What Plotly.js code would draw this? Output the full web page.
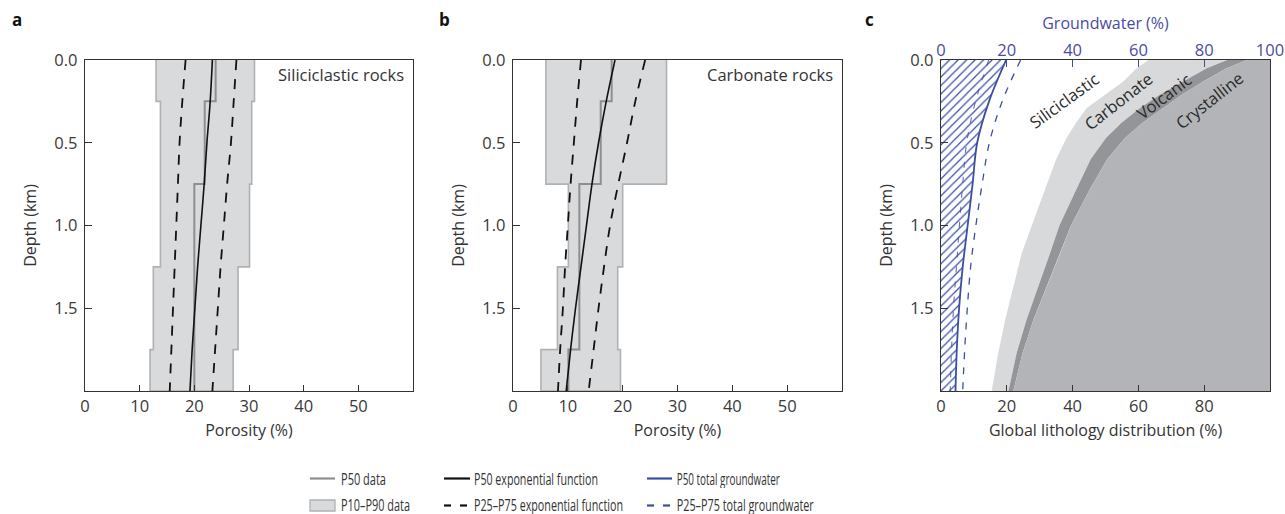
<!DOCTYPE html>
<html><head><meta charset="utf-8">
<script src="https://cdn.plot.ly/plotly-3.0.1.min.js"></script>
<style>html,body{margin:0;padding:0;background:#fff}#chart{width:1285px;height:514px}</style>
</head><body><div id="chart"></div>
<script>
// ---- data: step (binned) porosity data, depth intervals in km ----
const stepDepths = [0, 0.25, 0.75, 1.25, 1.75, 2.0];
const silP10 = [13.0, 13.8, 13.8, 12.5, 11.9];
const silP50 = [23.9, 21.9, 20.0, 20.0, 20.0];
const silP90 = [31.0, 30.5, 30.1, 28.0, 27.1];
const carP10 = [6.0, 6.0, 10.1, 8.1, 5.1];
const carP50 = [18.0, 16.0, 12.1, 12.1, 10.1];
const carP90 = [28.0, 28.0, 20.0, 19.1, 19.6];

// ---- exponential-function fits ----
const fitDepths = [0, 0.25, 0.5, 0.75, 1.0, 1.25, 1.5, 1.75, 2.0];
const silFitP25 = [18.4, 17.8, 17.3, 17.0, 16.7, 16.4, 16.1, 15.8, 15.5];
const silFitP50 = [23.3, 22.9, 22.3, 21.8, 21.2, 20.6, 20.1, 19.6, 19.2];
const silFitP75 = [27.7, 27.2, 26.7, 26.0, 25.4, 24.8, 24.3, 23.8, 23.3];
const carFitP25 = [12.4, 11.7, 11.1, 10.5, 10.0, 9.5, 9.1, 8.6, 8.2];
const carFitP50 = [18.6, 17.0, 15.6, 14.4, 13.4, 12.4, 11.4, 10.5, 9.7];
const carFitP75 = [24.1, 22.3, 20.8, 19.2, 17.7, 16.6, 15.6, 14.7, 13.8];

// ---- total groundwater (%) ----
const gwDepths = [0, 0.25, 0.5, 0.75, 1.0, 1.25, 1.5, 1.75, 2.0];
const gwP25 = [14.5, 10.5, 7.8, 6.6, 5.6, 4.7, 3.8, 3.2, 2.8];
const gwP50 = [19.8, 14.6, 11.0, 9.6, 8.1, 6.6, 5.5, 4.8, 4.4];
const gwP75 = [24.2, 18.6, 14.7, 12.5, 10.6, 9.0, 8.0, 7.2, 6.6];

// ---- global lithology distribution, cumulative boundaries (%) ----
const lithDepths       = [0,    0.05, 0.13, 0.21, 0.29, 0.38, 0.47, 0.6,  0.78, 1.0,  1.17, 1.37, 1.57, 1.77, 2.0];
const siliciclasticTop = [63.0, 59.5, 55.4, 50.0, 44.3, 41.0, 38.2, 35.0, 31.6, 27.6, 24.5, 22.0, 19.5, 17.4, 15.4];
const carbonateTop     = [87.0, 80.8, 73.6, 66.5, 60.5, 54.8, 50.2, 45.5, 41.2, 36.0, 33.1, 29.6, 26.0, 23.0, 20.5];
const volcanicTop      = [93.0, 86.8, 79.7, 73.2, 67.6, 61.2, 56.0, 50.5, 45.3, 39.5, 36.2, 32.1, 28.1, 24.8, 22.0];

const depthTicks = [0, 0.5, 1.0, 1.5];
const depthTickText = ['0.0', '0.5', '1.0', '1.5'];
const porosityTicks = [0, 10, 20, 30, 40, 50];
const lithTicks = [0, 20, 40, 60, 80];
const gwTicks = [0, 20, 40, 60, 80, 100];
const legendLabels = ['P50 data', 'P10–P90 data', 'P50 exponential function',
  'P25–P75 exponential function', 'P50 total groundwater', 'P25–P75 total groundwater'];

// ---- styles ----
const W = 1285, H = 514;
const FONT = '"Open Sans", "Noto Sans", sans-serif';
const TXT = '#333333';
const BAND_FILL = '#d9dadc', BAND_LINE = '#b0b1b3', P50_GRAY = '#8e8f91';
const BLUE = '#3b4ea6', BLUE_TXT = '#4b4ba3';
const CARB = '#d8d9db', VOLC = '#939598', CRYST = '#b3b4b7';
const DASH = '10px,9px';

function stepPath(vals) {
  const xs = [], ys = [];
  for (let i = 0; i < vals.length; i++) {
    xs.push(vals[i], vals[i]);
    ys.push(stepDepths[i], stepDepths[i + 1]);
  }
  return {xs, ys};
}
function band(lo, hi, xa, ya) {
  const L = stepPath(lo), R = stepPath(hi);
  return {
    x: L.xs.concat(R.xs.slice().reverse()),
    y: L.ys.concat(R.ys.slice().reverse()),
    xaxis: xa, yaxis: ya, type: 'scatter', mode: 'lines',
    fill: 'toself', fillcolor: BAND_FILL,
    line: {color: BAND_LINE, width: 1.6}, hoverinfo: 'skip', showlegend: false
  };
}
function stepLine(vals, xa, ya) {
  const P = stepPath(vals);
  return {x: P.xs, y: P.ys, xaxis: xa, yaxis: ya, type: 'scatter', mode: 'lines',
    line: {color: P50_GRAY, width: 2}, showlegend: false};
}
function fitLine(vals, xa, ya, dashed) {
  return {x: vals, y: fitDepths, xaxis: xa, yaxis: ya, type: 'scatter', mode: 'lines',
    line: {color: '#111', width: dashed ? 1.8 : 1.6, dash: dashed ? DASH : 'solid', shape: 'spline'},
    showlegend: false};
}
function poly(left, right, color) {
  return {
    x: left.concat(right.slice().reverse()),
    y: lithDepths.concat(lithDepths.slice().reverse()),
    xaxis: 'x3', yaxis: 'y3', type: 'scatter', mode: 'lines',
    fill: 'toself', fillcolor: color, line: {width: 0}, hoverinfo: 'skip', showlegend: false
  };
}

const traces = [
  band(silP10, silP90, 'x', 'y'),
  stepLine(silP50, 'x', 'y'),
  fitLine(silFitP25, 'x', 'y', true),
  fitLine(silFitP75, 'x', 'y', true),
  fitLine(silFitP50, 'x', 'y', false),

  band(carP10, carP90, 'x2', 'y2'),
  stepLine(carP50, 'x2', 'y2'),
  fitLine(carFitP25, 'x2', 'y2', true),
  fitLine(carFitP75, 'x2', 'y2', true),
  fitLine(carFitP50, 'x2', 'y2', false),

  poly(siliciclasticTop, carbonateTop, CARB),
  poly(carbonateTop, volcanicTop, VOLC),
  poly(volcanicTop, volcanicTop.map(() => 100), CRYST),

  {x: gwP50, y: gwDepths, xaxis: 'x4', yaxis: 'y3', type: 'scatter', mode: 'lines',
   fill: 'tozerox', fillcolor: 'rgba(0,0,0,0)',
   fillpattern: {shape: '/', fgcolor: BLUE, bgcolor: 'rgba(255,255,255,0)', size: 6, solidity: 0.2},
   line: {width: 0, shape: 'spline'}, hoverinfo: 'skip', showlegend: false},
  {x: gwP25, y: gwDepths, xaxis: 'x4', yaxis: 'y3', type: 'scatter', mode: 'lines',
   line: {color: BLUE, width: 1.1, dash: '6px,9px', shape: 'spline'}, opacity: 0.8, showlegend: false},
  {x: gwP75, y: gwDepths, xaxis: 'x4', yaxis: 'y3', type: 'scatter', mode: 'lines',
   line: {color: BLUE, width: 1.3, dash: '7px,8px', shape: 'spline'}, showlegend: false},
  {x: gwP50, y: gwDepths, xaxis: 'x4', yaxis: 'y3', type: 'scatter', mode: 'lines',
   line: {color: BLUE, width: 1.8, shape: 'spline'}, showlegend: false}
];

const yDom = [1 - 391 / H, 1 - 60 / H];
const tickFont = {family: FONT, size: 16.5, color: '#3a3a3a'};
const titleFont = {family: FONT, size: 16, color: TXT};
function xAx(dom, range, ticks, anchor, title) {
  return {domain: dom, range: range, tickvals: ticks, anchor: anchor,
    ticks: 'inside', ticklen: 6, tickcolor: '#333', tickwidth: 1,
    showline: true, linecolor: '#333', linewidth: 1.2, mirror: true,
    showgrid: false, zeroline: false, tickfont: tickFont, ticklabelstandoff: 0,
    title: {text: title, font: titleFont, standoff: 8}, fixedrange: true};
}
function yAx(anchor) {
  return {domain: yDom, range: [2, 0], tickvals: depthTicks, ticktext: depthTickText, anchor: anchor,
    ticks: 'inside', ticklen: 7, tickcolor: '#333', tickwidth: 1,
    showline: true, linecolor: '#333', linewidth: 1.2, mirror: true,
    showgrid: false, zeroline: false, tickfont: tickFont, ticklabelstandoff: 3,
    title: {text: 'Depth (km)', font: titleFont, standoff: 13}, fixedrange: true};
}

const px = v => v / W, py = v => 1 - v / H;
const shapes = [], annotations = [];
const squeeze = []; // [annotation index, target width px]
function legLine(x0, x1, y, color) {
  shapes.push({type: 'line', xref: 'paper', yref: 'paper', x0: px(x0), x1: px(x1), y0: py(y), y1: py(y),
    line: {color: color, width: 2.2}});
}
function legText(left, y, label, width) {
  squeeze.push([annotations.length, width]);
  annotations.push({xref: 'paper', yref: 'paper', x: px(left + width / 2), y: py(y), text: label,
    showarrow: false, xanchor: 'center', yanchor: 'middle', borderpad: 0,
    width: width + 4, height: 19,
    font: {family: FONT, size: 16, color: TXT}});
}
const R1 = 478.5, R2 = 504;
legLine(310, 335, R1, P50_GRAY);
legText(341, R1, legendLabels[0], 45);
shapes.push({type: 'rect', xref: 'paper', yref: 'paper', x0: px(310), x1: px(335), y0: py(511), y1: py(500),
  fillcolor: BAND_FILL, line: {color: BAND_LINE, width: 1.3}});
legText(341, R2, legendLabels[1], 69);
legLine(444, 470, R1, '#111');
legText(474, R1, legendLabels[2], 124);
legLine(444, 451, 505.5, '#111'); legLine(460, 467, 505.5, '#111');
legText(474, R2, legendLabels[3], 149);
legLine(647, 672, R1, BLUE);
legText(677, R1, legendLabels[4], 103);
legLine(647, 654, 505.5, BLUE); legLine(663, 670, 505.5, BLUE);
legText(677, R2, legendLabels[5], 137);

[['a', 10], ['b', 437], ['c', 863]].forEach(([t, x]) => annotations.push({
  xref: 'paper', yref: 'paper', x: px(x), y: py(20), text: '<b>' + t + '</b>', showarrow: false,
  xanchor: 'left', yanchor: 'middle', font: {family: FONT, size: 17, color: '#111'}}));

annotations.push({xref: 'x', yref: 'y', x: 58.8, y: 0.085, text: 'Siliciclastic rocks', showarrow: false,
  xanchor: 'right', yanchor: 'middle', font: {family: FONT, size: 16.5, color: TXT}});
annotations.push({xref: 'x2', yref: 'y2', x: 58.8, y: 0.085, text: 'Carbonate rocks', showarrow: false,
  xanchor: 'right', yanchor: 'middle', font: {family: FONT, size: 16.5, color: TXT}});

[['Siliciclastic', 37.4, 0.247, -36], ['Carbonate', 54.1, 0.247, -38],
 ['Volcanic', 67.5, 0.218, -37], ['Crystalline', 81.4, 0.242, -38]].forEach(([t, x, y, a]) =>
  annotations.push({xref: 'x3', yref: 'y3', x: x, y: y, text: t, textangle: a, showarrow: false,
    xanchor: 'center', yanchor: 'middle', font: {family: FONT, size: 16.5, color: '#2a2a2a'}}));

const layout = {
  width: W, height: H, margin: {l: 0, r: 0, t: 0, b: 0},
  paper_bgcolor: '#fff', plot_bgcolor: 'rgba(0,0,0,0)', showlegend: false,
  font: {family: FONT, color: TXT},
  xaxis: xAx([85 / W, 413 / W], [0, 60], porosityTicks, 'y', 'Porosity (%)'),
  yaxis: yAx('x'),
  xaxis2: xAx([513 / W, 842 / W], [0, 60], porosityTicks, 'y2', 'Porosity (%)'),
  yaxis2: yAx('x2'),
  xaxis3: xAx([941 / W, 1270 / W], [0, 100], lithTicks, 'y3', 'Global lithology distribution (%)'),
  yaxis3: yAx('x3'),
  xaxis4: {domain: [941 / W, 1270 / W], range: [0, 100], tickvals: gwTicks, anchor: 'y3',
    overlaying: 'x3', side: 'top', ticks: 'inside', ticklen: 7, tickcolor: BLUE, tickwidth: 1.2,
    showline: false, showgrid: false, zeroline: false, ticklabelstandoff: 0,
    tickfont: {family: FONT, size: 16.5, color: BLUE_TXT},
    title: {text: 'Groundwater (%)', font: {family: FONT, size: 16, color: BLUE_TXT}, standoff: 4},
    fixedrange: true},
  shapes: shapes, annotations: annotations
};

Plotly.newPlot('chart', traces, layout, {staticPlot: true, displayModeBar: false}).then(gd => {
  // the legend font of the original is condensed: compress those labels to their measured widths
  squeeze.forEach(([idx, w]) => {
    const t = gd.querySelector('.annotation[data-index="' + idx + '"] text.annotation-text');
    if (t) { t.setAttribute('textLength', w); t.setAttribute('lengthAdjust', 'spacingAndGlyphs'); }
  });
});
</script></body></html>
